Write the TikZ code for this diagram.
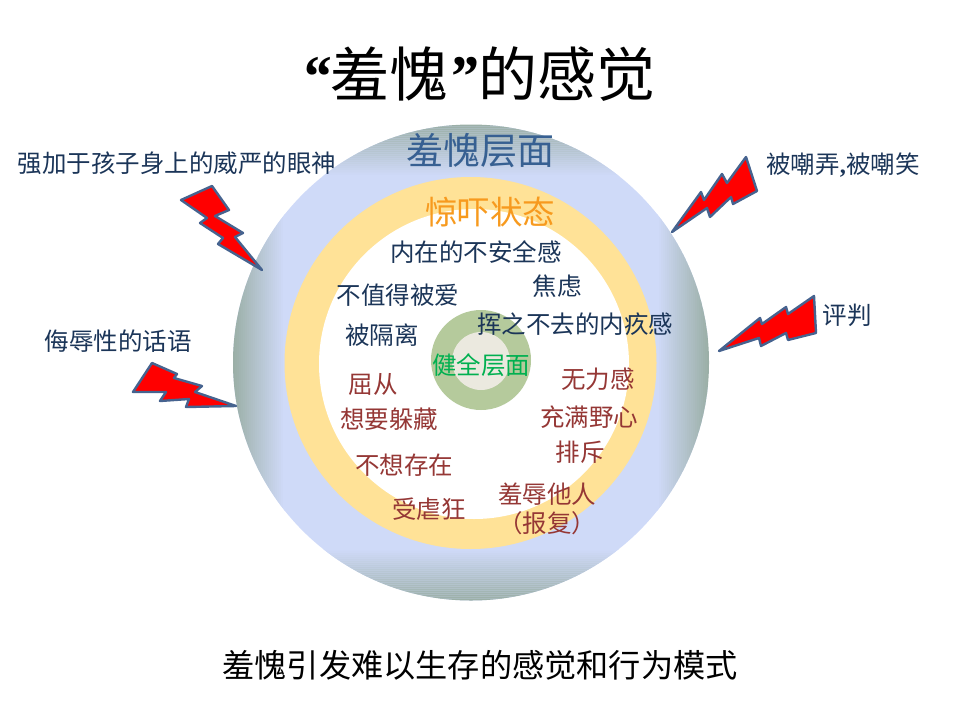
\documentclass[tikz,border=0pt]{standalone}
\usepackage{fontspec}
\setmainfont{Noto Sans CJK SC}
\newfontfamily\latnfont{Liberation Serif}
\definecolor{ringblue}{HTML}{CFDAF8}
\definecolor{ringgrey}{HTML}{9BAFA7}
\definecolor{ringyellow}{HTML}{FFE297}
\definecolor{ringgreen}{HTML}{B5CA9C}
\definecolor{corepale}{HTML}{EBE9DF}
\definecolor{navytext}{HTML}{1B3558}
\definecolor{redtext}{HTML}{953735}
\definecolor{boltedge}{HTML}{46638F}
\definecolor{headblue}{HTML}{376092}
\definecolor{headorange}{HTML}{F79A1E}
\definecolor{healthgreen}{HTML}{00B050}
\tikzset{
  navylabel/.style={text=navytext,font=\fontsize{24.5}{28}\selectfont,inner sep=0pt},
  redlabel/.style={text=redtext,font=\fontsize{24.5}{28}\selectfont,inner sep=0pt},
  boltshape/.style={fill=red,draw=boltedge,line width=2.4pt,line join=round},
}
\begin{document}
\begin{tikzpicture}[x=1pt,y=-1pt]
\useasboundingbox (0,0) rectangle (960,720);
% outer ring: rectangular gradient clipped by the circle
\begin{scope}
  \clip (471,362.5) circle (238);
  \fill[ringblue] (233,124.5) rectangle (709,600.5);
  \foreach \i in {0,2,...,50}{
    \pgfmathsetmacro{\p}{100-2*\i}
    \fill[ringgrey!\p!ringblue,even odd rule]
      (233+\i,124.5+\i) rectangle (709-\i,600.5-\i)
      (235+\i,126.5+\i) rectangle (707-\i,598.5-\i);
  }
\end{scope}
\fill[ringyellow] (470.5,363) circle (186);
\fill[white] (474,364) circle (155);
\fill[ringgreen] (481,360) circle (50);
\fill[corepale] (481,361) circle (29);
% bolts
\draw[boltshape] (181,200)--(212,186)--(229,210)--(215,216)--(243,233)--(235,237)--(262,270)--(218,244)--(223,238)--(200,223)--(207,218)--cycle;
\draw[boltshape] (133,392)--(152,363)--(177,374)--(174,378)--(202,386)--(195,392)--(236,406)--(186,407)--(189,399)--(160,401)--(166,392)--cycle;
\draw[boltshape] (672,232)--(701,192)--(704,200)--(722,174)--(727,183)--(746,157)--(757,191)--(733,204)--(731,197)--(710,217)--(707,208)--cycle;
\draw[boltshape] (719,351)--(760,318)--(762,324)--(786,307)--(788,314)--(814,296)--(816,333)--(788,340)--(786,333)--(761,346)--(759,338)--cycle;
% headings
\node[inner sep=0pt,font=\fontsize{59}{62}\selectfont] (title) at (478,74) {{\latnfont\bfseries\itshape “}羞愧{\latnfont\bfseries\itshape ”}的感觉};
\node[inner sep=0pt,text=headblue,font=\fontsize{37}{40}\selectfont] (shame) at (480,151) {羞愧层面};
\node[inner sep=0pt,text=headorange,font=\fontsize{32.5}{36}\selectfont] (shock) at (490,212) {惊吓状态};
\node[inner sep=0pt,text=healthgreen,font=\fontsize{24.5}{28}\selectfont] (health) at (481,365) {健全层面};
\node[inner sep=0pt,font=\fontsize{32.2}{36}\selectfont] (bottom) at (480,665) {羞愧引发难以生存的感觉和行为模式};
% outside labels
\node[navylabel] (l1) at (177,163) {强加于孩子身上的威严的眼神};
\node[navylabel] (l2) at (118,341) {侮辱性的话语};
\node[navylabel] (l3) at (843,165) {被嘲弄{\latnfont\bfseries ,}被嘲笑};
\node[navylabel] (l4) at (847,315) {评判};
% inner dark labels
\node[navylabel] (a1) at (476,252) {内在的不安全感};
\node[navylabel] (a2) at (557,286) {焦虑};
\node[navylabel] (a3) at (398,295) {不值得被爱};
\node[navylabel] (a4) at (575,324) {挥之不去的内疚感};
\node[navylabel] (a5) at (382,335) {被隔离};
% inner red labels
\node[redlabel] (b1) at (373,384) {屈从};
\node[redlabel] (b2) at (598,379) {无力感};
\node[redlabel] (b3) at (389,419) {想要躲藏};
\node[redlabel] (b4) at (589,417) {充满野心};
\node[redlabel] (b5) at (404,465) {不想存在};
\node[redlabel] (b6) at (580,452) {排斥};
\node[redlabel] (b7) at (429,509) {受虐狂};
\node[redlabel] (b8) at (547,494) {羞辱他人};
\node[redlabel] (b9) at (547,523) {（报复）};
\end{tikzpicture}
\end{document}
